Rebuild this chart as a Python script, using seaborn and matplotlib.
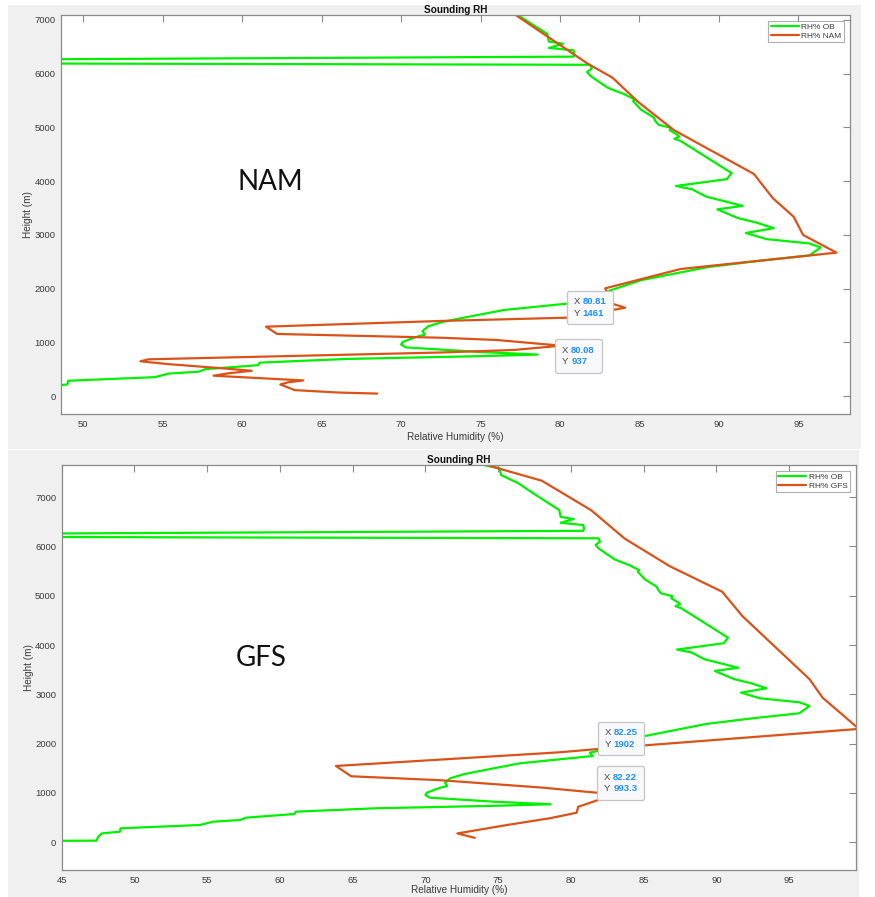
import matplotlib
matplotlib.use("Agg")
import matplotlib.pyplot as plt
import seaborn as sns
from matplotlib.patches import Rectangle
from matplotlib.offsetbox import TextArea, HPacker, VPacker, AnnotationBbox

# Observed sounding (relative humidity %, height m), bottom to top
ob_rh = [44.5, 47.4, 47.5, 47.75, 49.0, 49.05, 54.5, 55.4, 57.25, 57.7, 61.0, 61.1,
         66.6, 74.7, 78.6, 74.7, 70.3, 70.0, 70.1, 70.9, 71.5, 71.35, 71.7, 72.7,
         74.7, 76.5, 79.25, 81.5, 81.3, 82.2, 85.1, 89.3, 92.5, 95.7, 96.4, 95.7,
         93.0, 91.7, 93.45, 92.4, 91.2, 89.9, 91.5, 89.2, 88.3, 87.3, 90.5, 90.8,
         87.6, 87.2, 87.5, 87.4, 86.9, 87.0, 86.2, 86.0, 85.9, 85.1, 84.6, 84.7,
         84.0, 83.5, 83.0, 82.4, 81.9, 81.7, 82.0, 81.9, 11.6, 80.85, 80.9, 80.85,
         79.3, 80.2, 79.3, 79.2, 78.3, 77.0, 76.4, 75.2, 75.1, 74.0, 73.5]
ob_height = [30, 33, 110, 180, 215, 284, 351, 418, 452, 500, 574, 621,
             690, 740, 771, 824, 905, 959, 1006, 1095, 1142, 1209, 1298, 1385,
             1501, 1602, 1684, 1750, 1818, 1872, 2156, 2400, 2515, 2617, 2765, 2840,
             2921, 3035, 3124, 3225, 3312, 3475, 3540, 3712, 3850, 3910, 4037, 4150,
             4746, 4790, 4830, 4860, 4950, 4990, 5050, 5120, 5185, 5330, 5489, 5520,
             5625, 5680, 5740, 5860, 5963, 6030, 6097, 6166, 6215, 6318, 6369, 6436,
             6480, 6558, 6600, 6741, 6909, 7160, 7282, 7450, 7586, 7653, 7700]

# NAM forecast profile
nam_rh = [68.5, 66.0, 63.3, 62.4, 62.9, 63.85, 58.2, 59.2, 60.6, 58.8, 55.3, 53.6,
          54.1, 72.5, 77.1, 80.08, 76.0, 72.5, 62.2, 61.5, 72.5, 80.81, 84.1, 83.2,
          82.85, 87.6, 97.4, 95.3, 94.7, 93.4, 92.2, 87.15, 84.9, 83.3, 81.7, 77.2, 76.5]
nam_height = [45, 65, 110, 215, 255, 290, 378, 425, 470, 515, 595, 646,
              683, 810, 857, 937, 1043, 1085, 1155, 1291, 1397, 1461, 1644, 1726,
              2005, 2365, 2669, 2998, 3339, 3681, 4134, 4953, 5480, 5927, 6195, 7095, 7200]

# GFS forecast profile
gfs_rh = [73.4, 72.2, 75.6, 78.6, 80.4, 80.5, 81.9, 82.22, 78.0, 71.0, 64.9, 63.85,
          79.2, 82.25, 99.8, 97.3, 96.4, 91.8, 90.4, 86.8, 83.7, 81.4, 78.0, 74.2, 73.0]
gfs_height = [90, 180, 350, 490, 600, 720, 860, 993.3, 1110, 1260, 1339, 1548,
              1825, 1902, 2300, 2935, 3310, 4585, 5083, 5600, 6160, 6735, 7335, 7653, 7800]

# Data cursors: (rh, height, box placement)
nam_tips = [(80.81, 1461, "above"), (80.08, 937, "below")]
gfs_tips = [(82.25, 1902, "above"), (82.22, 993.3, "above")]

GREEN = "#00f000"
ORANGE = "#d95319"
AXCOL = "#8a8a8a"
TXTCOL = "#3a3a3a"

sns.set_theme(style="white")
plt.rcParams["font.family"] = ["Liberation Sans", "DejaVu Sans"]

W, H = 875, 897
fig = plt.figure(figsize=(W / 100, H / 100), dpi=100)
fig.patch.set_facecolor("white")

# grey window backgrounds
for x0, y0, x1, y1 in [(8, 5, 861, 449), (8, 450, 859, 897)]:
    fig.add_artist(Rectangle((x0 / W, 1 - y1 / H), (x1 - x0) / W, (y1 - y0) / H,
                             transform=fig.transFigure, facecolor="#f0f0f0",
                             edgecolor="none", zorder=-10))


def add_tip(ax, x, y, where):
    ax.plot([x], [y], "o", color="black", ms=2.6, zorder=6)
    rows = []
    for name, val in (("X", x), ("Y", y)):
        rows.append(HPacker(children=[
            TextArea(name, textprops=dict(color="#444444", size=6.8)),
            TextArea(f"{val:.4g}", textprops=dict(color="#1e8fff", size=6.8,
                                                  weight="bold")),
        ], align="baseline", pad=0, sep=2))
    box = VPacker(children=rows, align="left", pad=0, sep=1.5)
    align = (0, 0) if where == "above" else (0, 1)
    ab = AnnotationBbox(box, (x, y), xybox=(0.6, 0), boxcoords="offset points",
                        box_alignment=align, frameon=True, pad=0.45,
                        bboxprops=dict(boxstyle="round,pad=0.45,rounding_size=0.15",
                                       facecolor="#f9f9fb", edgecolor="#c4c4c4", lw=0.9),
                        zorder=7)
    ax.add_artist(ab)


def draw(ax, m_rh, m_h, name, xlim, ylim, xticks, tips, tag_xy, xl_y, yl_x):
    sns.lineplot(x=ob_rh, y=ob_height, sort=False, estimator=None, color=GREEN,
                 lw=1.6, ax=ax, label="RH% OB")
    sns.lineplot(x=m_rh, y=m_h, sort=False, estimator=None, color=ORANGE,
                 lw=1.6, ax=ax, label=f"RH% {name}")
    ax.set_xlim(*xlim)
    ax.set_ylim(*ylim)
    ax.set_xticks(xticks)
    ax.set_yticks(range(0, 7001, 1000))
    ax.set_facecolor("white")
    for s in ax.spines.values():
        s.set_color(AXCOL)
        s.set_linewidth(0.9)
    ax.tick_params(direction="in", top=True, right=True, length=4.8, width=0.8,
                   color=AXCOL, labelcolor=TXTCOL, labelsize=6.8, pad=4)
    ax.set_title("Sounding RH", fontsize=7.2, fontweight="bold", color="#111111", pad=1.5)
    ax.set_xlabel("Relative Humidity (%)", fontsize=7.2, color=TXTCOL)
    ax.set_ylabel("Height (m)", fontsize=7.2, color=TXTCOL)
    ax.xaxis.set_label_coords(0.5, xl_y)
    ax.yaxis.set_label_coords(yl_x, 0.5)
    leg = ax.legend(loc="upper right", fontsize=6, frameon=True, fancybox=False,
                    edgecolor="#9a9a9a", handlelength=3.4, borderaxespad=0.7,
                    borderpad=0.3, labelspacing=0.1, handletextpad=0.3)
    leg.get_frame().set_linewidth(0.8)
    for t in leg.get_texts():
        t.set_color(TXTCOL)
    ax.text(tag_xy[0], tag_xy[1], name, fontsize=20, ha="center", va="center",
            family=["Lato", "DejaVu Sans"], color="#111111")
    for x, y, where in tips:
        add_tip(ax, x, y, where)


ax1 = fig.add_axes([61 / W, 1 - 414 / H, (850 - 61) / W, (414 - 15) / H])
draw(ax1, nam_rh, nam_height, "NAM", (48.6, 98.25), (-335, 7093), range(50, 96, 5),
     nam_tips, (61.8, 3985), -0.044, -0.035)

ax2 = fig.add_axes([61.7 / W, 1 - 870 / H, (856 - 61.7) / W, (870 - 465) / H])
draw(ax2, gfs_rh, gfs_height, "GFS", (45, 99.6), (-562, 7653), range(45, 96, 5),
     gfs_tips, (58.7, 3738), -0.038, -0.0355)

fig.savefig("out.png", dpi=100, facecolor="white")
